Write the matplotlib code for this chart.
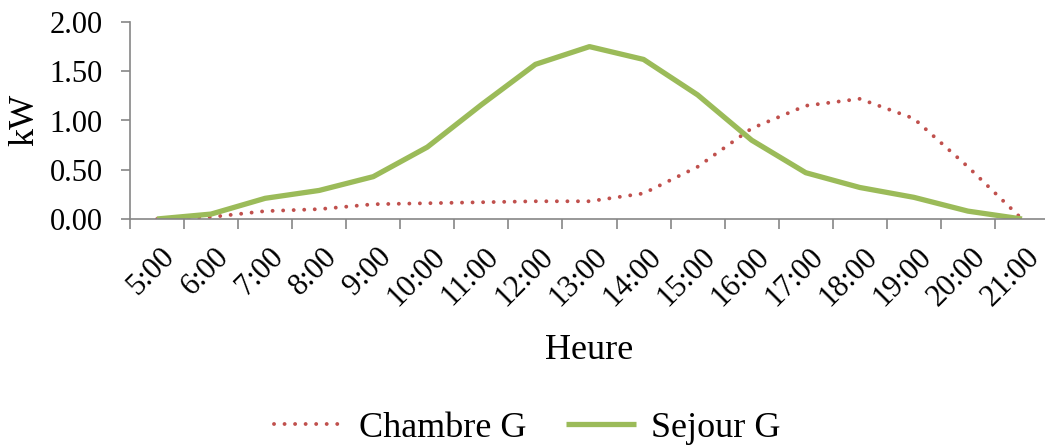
import matplotlib
matplotlib.use("Agg")
import matplotlib.pyplot as plt
import matplotlib.transforms as mtransforms
import numpy as np

hours = ["5:00", "6:00", "7:00", "8:00", "9:00", "10:00", "11:00", "12:00", "13:00",
         "14:00", "15:00", "16:00", "17:00", "18:00", "19:00", "20:00", "21:00"]
chambre = [0.00, 0.02, 0.08, 0.10, 0.15, 0.16, 0.17, 0.18, 0.18,
           0.26, 0.53, 0.92, 1.15, 1.22, 1.02, 0.53, 0.00]
sejour = [0.00, 0.05, 0.21, 0.29, 0.43, 0.73, 1.16, 1.57, 1.75,
          1.62, 1.26, 0.80, 0.47, 0.32, 0.22, 0.08, 0.00]
yticks = [0.0, 0.5, 1.0, 1.5, 2.0]

plt.rcParams['font.family'] = ['Liberation Serif', 'DejaVu Serif']
W, H = 1045, 448
fig = plt.figure(figsize=(W / 100, H / 100), dpi=100)
left, right, top, bottom = 130, 1049, 22, 219
ax = fig.add_axes([left / W, 1 - bottom / H, (right - left) / W, (bottom - top) / H])

x = np.arange(len(hours))
grey = '#868686'
ax.plot(x, chambre, color='#C0504D', lw=2.8, linestyle=(0, (0.01, 2.7)),
        dash_capstyle='round', label='Chambre G')
ax.plot(x, sejour, color='#9BBB59', lw=3.8, solid_capstyle='butt',
        solid_joinstyle='round', label='Sejour G')

ax.set_xlim(-0.5, len(hours) - 0.5)
ax.set_ylim(0, 2.0)
ax.set_yticks(yticks)
ax.set_yticklabels([f"{v:.2f}" for v in yticks], fontsize=22)

ax.set_xticks(np.arange(-0.5, len(hours) - 1, 1.0))
ax.set_xticklabels([])
ax.set_xticks(x, minor=True)
ax.set_xticklabels(hours, minor=True, rotation=45, ha='right', va='top',
                   rotation_mode='anchor', fontsize=22)
ax.tick_params(axis='x', which='major', direction='out', length=7, width=1.2, color=grey)
ax.tick_params(axis='x', which='minor', length=0, pad=17)
ax.tick_params(axis='y', direction='out', length=6.5, width=1.2, color=grey, pad=13)
offset = mtransforms.ScaledTranslation(3 / 100, 0, fig.dpi_scale_trans)
for lbl in ax.get_xticklabels(minor=True):
    lbl.set_transform(lbl.get_transform() + offset)

for s in ['top', 'right']:
    ax.spines[s].set_visible(False)
for s in ['left', 'bottom']:
    ax.spines[s].set_color(grey)
    ax.spines[s].set_linewidth(1.2)

ax.set_ylabel('kW', fontsize=26, va='center', ha='center')
ax.yaxis.set_label_coords((25 - left) / (right - left), (bottom - 120) / (bottom - top))
ax.set_xlabel('Heure', fontsize=26, va='center', ha='center')
ax.xaxis.set_label_coords((589 - left) / (right - left), (bottom - 350) / (bottom - top))

fig.legend(loc='center', bbox_to_anchor=(527 / W, 1 - 428 / H), ncol=2, frameon=False,
           fontsize=26, handlelength=1.95, handletextpad=0.4, columnspacing=1.1)

fig.savefig('out.png', dpi=100)
